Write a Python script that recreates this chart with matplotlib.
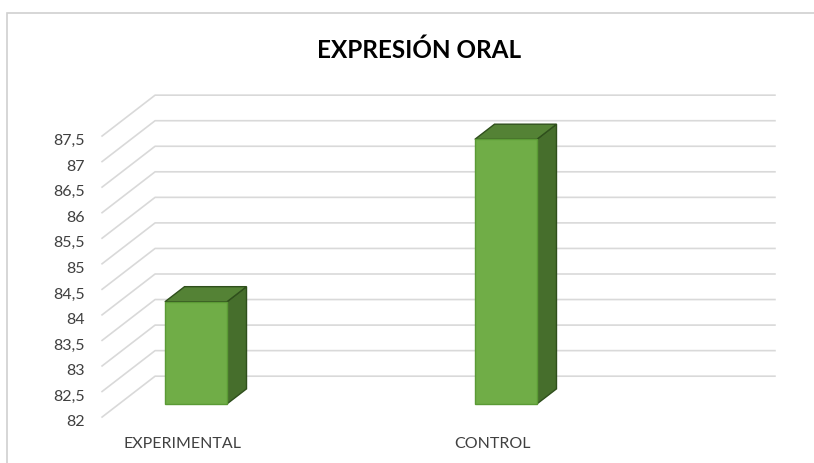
import matplotlib
matplotlib.use("Agg")
import numpy as np
from matplotlib import pyplot as plt
from matplotlib.patches import Polygon, Rectangle

categories = ["EXPERIMENTAL", "CONTROL"]
values = [84.0, 87.18]
ticks = [82, 82.5, 83, 83.5, 84, 84.5, 85, 85.5, 86, 86.5, 87, 87.5]
tick_labels = ["82", "82,5", "83", "83,5", "84", "84,5", "85", "85,5",
               "86", "86,5", "87", "87,5"]
title = "EXPRESIÓN ORAL"

plt.rcParams["font.family"] = ["Lato", "DejaVu Sans"]

# oblique depth: x shift and value shift for a full floor depth
ddx, ddy = 0.171, 0.80
d_front, d_back = -0.32, 0.68   # floor depth range, bar front at d=0
bar_depth = 0.37
bar_w = 0.2
base = 82
wall_x = -0.248
grid_end = 1.868


def proj(x, v, d):
    return (x + d * ddx, v + d * ddy)


fig = plt.figure(figsize=(8.14, 4.64), dpi=100)
ax = fig.add_axes([0, 0, 1, 1])
ax.set_xlim(-0.632, 1.994)
ax.set_ylim(80.845, 89.926)
ax.axis("off")

# chart border
fig.add_artist(Rectangle((7 / 814, -0.1), 1.2, 1.1 - 14 / 464,
                         transform=fig.transFigure, fill=False,
                         edgecolor="#d0d0d0", lw=1.2))

grid_col = "#d9d9d9"
for t, lab in zip(ticks, tick_labels):
    p0 = proj(wall_x, t, d_front)
    p1 = proj(wall_x, t, d_back)
    p2 = (grid_end, p1[1])
    ax.plot([p0[0], p1[0], p2[0]], [p0[1], p1[1], p2[1]], color=grid_col,
            lw=1.2, zorder=1)
    ax.text(p0[0] - 0.055, p0[1] - 0.08, lab, ha="right", va="center",
            fontsize=11.5, color="#404040")

front_c = "#70ad47"
top_c = "#548235"
side_c = "#466e2c"
edge_c = "#2f4f1c"

for i, (cat, v) in enumerate(zip(categories, values)):
    xl, xr = i - bar_w / 2, i + bar_w / 2
    front = [proj(xl, base, 0), proj(xr, base, 0), proj(xr, v, 0), proj(xl, v, 0)]
    top = [proj(xl, v, 0), proj(xr, v, 0), proj(xr, v, bar_depth), proj(xl, v, bar_depth)]
    side = [proj(xr, base, 0), proj(xr, base, bar_depth), proj(xr, v, bar_depth), proj(xr, v, 0)]
    ax.add_patch(Polygon(side, closed=True, facecolor=side_c, edgecolor=edge_c, lw=1, zorder=3))
    ax.add_patch(Polygon(top, closed=True, facecolor=top_c, edgecolor=edge_c, lw=1, zorder=3))
    ax.add_patch(Polygon(front, closed=True, facecolor=front_c, edgecolor="#5b9a35", lw=1, zorder=4))
    lx, ly = proj(i, base, d_front)
    ax.text(lx + 0.01, 81.23, cat, ha="center", va="center", fontsize=11.5,
            color="#404040")

ax.text(0.515, 1 - 50 / 464, title, transform=ax.transAxes, ha="center",
        va="center", fontsize=17.5, fontweight="bold", color="#000000")

fig.savefig("out.png", dpi=100)
